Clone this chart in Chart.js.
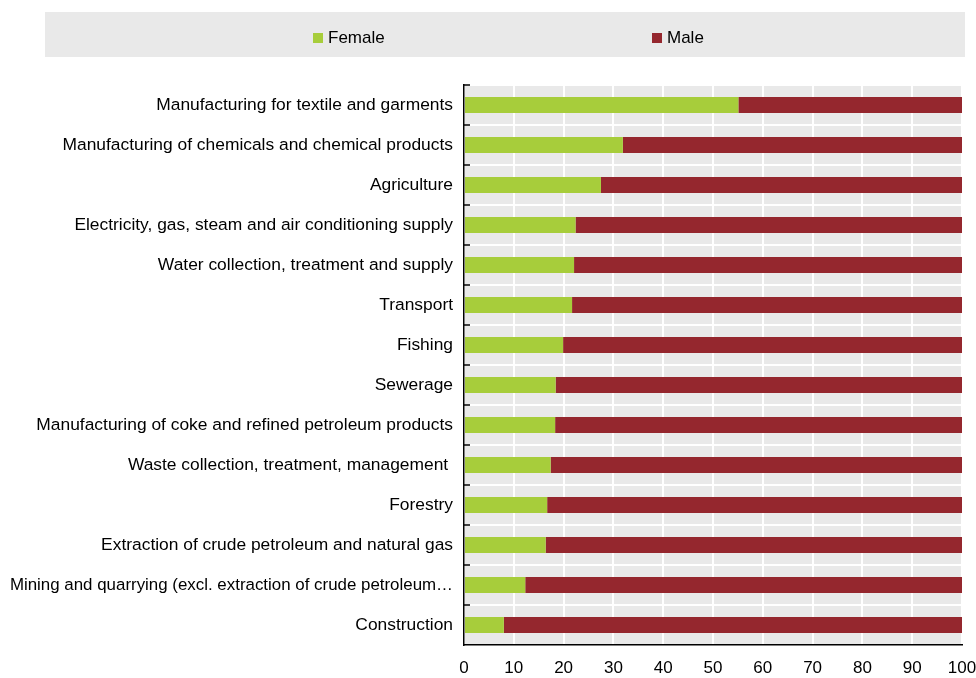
<!DOCTYPE html>
<html>
<head>
<meta charset="utf-8">
<script src="https://cdn.jsdelivr.net/npm/chart.js@4.4.1/dist/chart.umd.min.js"></script>
<style>
  body { margin: 0; background: #fff; font-family: "Liberation Sans", Arial, sans-serif; }
  #wrap { position: relative; width: 976px; height: 678px; }
  #legend { position: absolute; left: 45px; top: 12px; width: 920px; height: 45px; background: #e9e9e9; }
  .item { position: absolute; top: 3px; height: 45px; display: flex; align-items: center; font-size: 17px; color: #000; }
  .item span { display: inline-block; width: 10px; height: 10px; margin-right: 5px; }
</style>
</head>
<body>
<div id="wrap">
  <canvas id="chart"></canvas>
  <div id="legend"></div>
</div>
<script>
// sectors, top to bottom
const sectors = [
    'Manufacturing for textile and garments',
    'Manufacturing of chemicals and chemical products',
    'Agriculture',
    'Electricity, gas, steam and air conditioning supply',
    'Water collection, treatment and supply',
    'Transport',
    'Fishing',
    'Sewerage',
    'Manufacturing of coke and refined petroleum products',
    'Waste collection, treatment, management ',
    'Forestry',
    'Extraction of crude petroleum and natural gas',
    'Mining and quarrying (excl. extraction of crude petroleum\u2026',
    'Construction'
];
const female = [55.1, 31.9, 27.5, 22.4, 22.1, 21.7, 19.9, 18.4, 18.3, 17.4, 16.7, 16.4, 12.3, 8.0];
const male = [44.9, 68.1, 72.5, 77.6, 77.9, 78.3, 80.1, 81.6, 81.7, 82.6, 83.3, 83.6, 87.7, 92.0];
const xTicks = [0, 10, 20, 30, 40, 50, 60, 70, 80, 90, 100];

const seriesNames = ['Female', 'Male'];
const seriesColors = ['#a7cd3b', '#95272e'];

// grey plot background + small inward ticks on the category axis
const plotDecor = {
    id: 'plotDecor',
    beforeDraw(chart) {
        const { ctx, chartArea } = chart;
        ctx.save();
        ctx.fillStyle = '#e9e9e9';
        ctx.fillRect(chartArea.left, chartArea.top, chartArea.right - chartArea.left, chartArea.bottom - chartArea.top);
        ctx.restore();
    },
    afterDraw(chart) {
        const { ctx, chartArea, scales } = chart;
        const y = scales.y;
        const step = y.getPixelForValue(1) - y.getPixelForValue(0);
        ctx.save();
        ctx.strokeStyle = '#000';
        ctx.lineWidth = 1.5;
        for (let i = 0; i < sectors.length; i++) {
            const py = y.getPixelForValue(i) - step / 2;
            ctx.beginPath();
            ctx.moveTo(chartArea.left, py);
            ctx.lineTo(chartArea.left + 6, py);
            ctx.stroke();
        }
        ctx.restore();
    }
};

const chart = new Chart(document.getElementById('chart'), {
    type: 'bar',
    data: {
        labels: sectors,
        datasets: [
            { label: seriesNames[0], data: female, backgroundColor: seriesColors[0] },
            { label: seriesNames[1], data: male, backgroundColor: seriesColors[1] }
        ]
    },
    options: {
        indexAxis: 'y',
        responsive: true,
        maintainAspectRatio: false,
        animation: false,
        datasets: { bar: { barPercentage: 0.4, categoryPercentage: 1.0 } },
        layout: { padding: { top: 85, right: 0, left: 0, bottom: 0 } },
        plugins: { legend: { display: false }, tooltip: { enabled: false } },
        scales: {
            x: {
                stacked: true,
                min: 0,
                max: 100,
                afterBuildTicks: (s) => { s.ticks = xTicks.map(v => ({ value: v })); },
                afterFit: (s) => { s.height = 33; s.paddingRight = 14; },
                grid: { color: '#ffffff', lineWidth: 2, drawTicks: false },
                border: { display: true, color: '#000', width: 1.5 },
                ticks: { padding: 13, color: '#000', font: { family: 'Liberation Sans', size: 17 } }
            },
            y: {
                stacked: true,
                afterFit: (s) => { s.width = 464; },
                grid: { color: '#ffffff', lineWidth: 2, drawTicks: false, offset: true },
                border: { display: true, color: '#000', width: 1.5 },
                ticks: {
                    padding: 11,
                    color: '#000',
                    autoSkip: false,
                    font: (ctx) => ({ family: 'Liberation Sans', size: ctx.index === 12 ? 16.9 : 17.4 })
                }
            }
        }
    },
    plugins: [plotDecor]
});

// legend strip across the top
const legendLeft = [268, 607];
const legend = document.getElementById('legend');
chart.data.datasets.forEach((ds, i) => {
    const item = document.createElement('div');
    item.className = 'item';
    item.style.left = legendLeft[i] + 'px';
    item.innerHTML = `<span style="background:${ds.backgroundColor}"></span>${ds.label}`;
    legend.appendChild(item);
});
</script>
</body>
</html>
